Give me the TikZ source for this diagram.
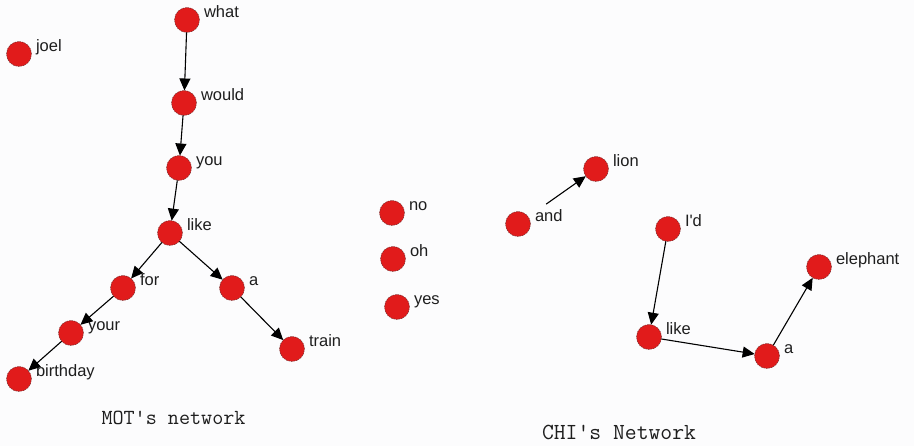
\documentclass[tikz,border=0pt]{standalone}
\usepackage{fontspec}
\setmainfont{Liberation Sans}
\usetikzlibrary{arrows.meta}
\definecolor{ce11b1b}{RGB}{225,27,27}
\definecolor{c6e2a2a}{RGB}{110,42,42}
\definecolor{cfcfcfd}{RGB}{252,252,253}
\definecolor{c1e1e1e}{RGB}{30,30,30}
\def \globalscale {1.000000}

\begin{document}
\begin{tikzpicture}[y=1pt, x=1pt, yscale=\globalscale,xscale=\globalscale, every node/.append style={scale=\globalscale}, inner sep=0pt, outer sep=0pt,
  word/.style={circle, fill=ce11b1b, draw=c6e2a2a, dash pattern=on 1.5pt off 1pt, line width=0.5pt, minimum size=25pt},
  wordlabel/.style={anchor=base west, xshift=17pt, yshift=2.5pt, text=c1e1e1e, font=\fontsize{16.5}{19}\selectfont},
  link/.style={draw=black, line width=1.1pt, -{Triangle[length=12pt,width=11pt]}},
  title/.style={anchor=base, text=c1e1e1e, font=\ttfamily\fontsize{21.5}{24}\selectfont}]
  \path[fill=cfcfcfd] (0.0, 0.0) rectangle (914.0, 446.0);

  % MOT's network
  \node[word] (what) at (187, 426) {};
  \node[word] (joel) at (19, 392) {};
  \node[word] (would) at (184, 343) {};
  \node[word] (you) at (179, 278) {};
  \node[word] (likeM) at (170, 213) {};
  \node[word] (for) at (123, 158) {};
  \node[word] (aM) at (232, 158) {};
  \node[word] (your) at (71, 113) {};
  \node[word] (train) at (292, 97) {};
  \node[word] (birthday) at (19, 67) {};

  % unlinked words
  \node[word] (no) at (392, 233) {};
  \node[word] (oh) at (393, 187) {};
  \node[word] (yes) at (397, 139) {};

  % CHI's network
  \node[word] (and) at (518, 222) {};
  \node[word] (lion) at (596, 277) {};
  \node[word] (id) at (668, 217) {};
  \node[word] (elephant) at (819, 179) {};
  \node[word] (likeC) at (649, 109) {};
  \node[word] (aC) at (767, 90) {};

  \node[wordlabel] (what-t) at (what) {what};
  \node[wordlabel] (joel-t) at (joel) {joel};
  \node[wordlabel] (would-t) at (would) {would};
  \node[wordlabel] (you-t) at (you) {you};
  \node[wordlabel] (likeM-t) at (likeM) {like};
  \node[wordlabel] (for-t) at (for) {for};
  \node[wordlabel] (aM-t) at (aM) {a};
  \node[wordlabel] (your-t) at (your) {your};
  \node[wordlabel] (train-t) at (train) {train};
  \node[wordlabel] (birthday-t) at (birthday) {birthday};
  \node[wordlabel] (no-t) at (no) {no};
  \node[wordlabel] (oh-t) at (oh) {oh};
  \node[wordlabel] (yes-t) at (yes) {yes};
  \node[wordlabel] (and-t) at (and) {and};
  \node[wordlabel] (lion-t) at (lion) {lion};
  \node[wordlabel] (id-t) at (id) {I\textquotesingle d};
  \node[wordlabel] (elephant-t) at (elephant) {elephant};
  \node[wordlabel] (likeC-t) at (likeC) {like};
  \node[wordlabel] (aC-t) at (aC) {a};

  \path[link] (what) -- (would);
  \path[link] (would) -- (you);
  \path[link] (you) -- (likeM);
  \path[link] (likeM) -- (for);
  \path[link] (likeM) -- (aM);
  \path[link] (for) -- (your);
  \path[link] (your) -- (birthday);
  \path[link] (aM) -- (train);

  \path[link, shorten <=22pt] (and) -- (lion);
  \path[link] (id) -- (likeC);
  \path[link] (likeC) -- (aC);
  \path[link] (aC) -- (elephant);

  \node[title] (mot-title) at (173.5, 21) {MOT\textquotesingle s network};
  \node[title, font=\ttfamily\fontsize{23}{26}\selectfont] (chi-title) at (619, 6) {CHI\textquotesingle s Network};

\end{tikzpicture}
\end{document}
